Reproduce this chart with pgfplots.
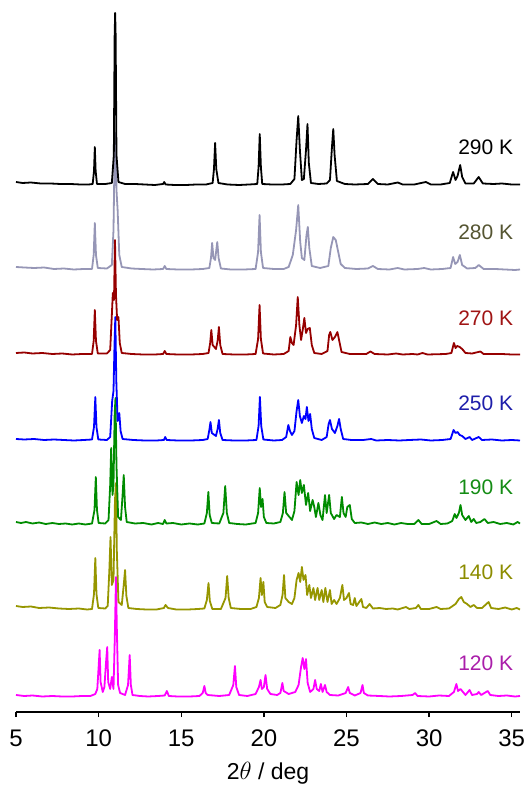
\documentclass[border=0pt]{standalone}
\usepackage{pgfplots}
\pgfplotsset{compat=1.18}
\usepackage{pgfplotstable}
\usepackage{fontspec}
\setmainfont{Liberation Sans}

\definecolor{cA}{RGB}{0,0,0}
\definecolor{cB}{RGB}{150,150,182}
\definecolor{cBt}{RGB}{85,85,50}
\definecolor{cC}{RGB}{150,0,0}
\definecolor{cCt}{RGB}{160,20,20}
\definecolor{cD}{RGB}{0,0,255}
\definecolor{cDt}{RGB}{30,30,170}
\definecolor{cE}{RGB}{0,140,0}
\definecolor{cEt}{RGB}{20,140,20}
\definecolor{cF}{RGB}{150,150,0}
\definecolor{cFt}{RGB}{140,140,0}
\definecolor{cG}{RGB}{255,0,255}
\definecolor{cGt}{RGB}{170,30,170}

% heights above each trace's own baseline (px-like units)
\pgfplotstableread{
x y
5.0 3
5.4 2
5.9 2.5
6.5 1.5
7.1 1.5
7.7 1
8.3 1
8.9 0.5
9.4 0.5
9.64 1
9.72 14
9.77 38
9.82 14
9.9 1
10.4 1
10.8 2
10.92 30
10.97 150
11.0 172
11.03 150
11.08 30
11.2 3
11.6 1
12.2 1
12.8 0.5
13.4 0
13.9 1
13.97 3
14.05 0.5
14.6 0
15.3 0
15.9 0.5
16.5 0.5
16.9 2
16.98 16
17.05 42
17.12 16
17.25 2
17.8 0.5
18.5 0
19.1 0.5
19.6 1
19.68 18
19.75 51
19.82 18
19.9 1
20.5 0.5
21.1 0.5
21.6 1
21.85 6
21.98 45
22.08 69
22.18 35
22.3 5
22.42 6
22.55 35
22.64 61
22.72 22
22.85 2
23.3 1
23.8 1.5
24.0 5
24.12 38
24.2 56
24.28 30
24.42 4
24.9 1
25.5 0.5
26.3 1
26.6 6
26.9 1
27.5 0.5
28.1 2.5
28.4 0.5
29.1 0.5
29.8 3
30.1 0.5
30.7 0.5
31.25 2
31.45 13
31.6 5
31.72 9
31.88 20
32.0 8
32.2 1.5
32.7 1.5
33.0 8
33.25 1.5
33.9 1
34.4 1.5
35.0 0.5
35.5 0.5
}\tA

\pgfplotstableread{
x y
5.0 3
5.5 2.5
6.1 2
6.7 2.5
7.3 1
7.9 1.5
8.5 0.5
9.1 1
9.6 1
9.7 15
9.77 47
9.84 15
9.95 2
10.5 1.5
10.8 5
10.9 40
10.97 120
11.02 137
11.08 80
11.15 60
11.25 15
11.4 3
12.0 1.5
12.6 1
13.3 0.5
13.9 1
14.0 4
14.1 1
14.8 0.5
15.6 0.5
16.3 1
16.7 2
16.8 12
16.87 27
16.95 12
17.05 10
17.18 28
17.26 12
17.4 1.5
18.0 0.5
18.8 0.5
19.5 1
19.65 18
19.74 55
19.82 18
19.95 2
20.6 1
21.2 1
21.5 3
21.75 15
21.95 40
22.08 65
22.2 28
22.3 12
22.45 10
22.58 35
22.66 43
22.75 22
22.9 4
23.4 2
23.9 4
24.05 22
24.2 33
24.35 30
24.5 18
24.65 6
24.9 2
25.6 1
26.3 1.5
26.6 4
26.9 1
27.6 0.5
28.1 2
28.5 0.5
29.3 1
29.7 2
30.1 0.5
30.8 1
31.3 2
31.45 13
31.58 6
31.72 8
31.86 15
32.0 5
32.3 1.5
32.8 2
33.0 5
33.3 1
34.0 1
34.6 0.5
35.2 0
35.5 0.5
}\tB

\pgfplotstableread{
x y
5.0 2
5.5 2.5
6.0 1.5
6.6 2
7.2 1
7.8 1.5
8.4 0.5
9.0 1
9.6 1
9.7 14
9.77 45
9.84 14
9.95 1.5
10.5 1.5
10.7 5
10.8 40
10.86 62
10.93 55
10.99 115
11.05 60
11.12 35
11.2 38
11.28 12
11.4 2
12.0 1
12.7 0.5
13.4 0.5
13.9 1
14.0 4
14.1 1
14.8 0.5
15.6 0.5
16.3 1
16.65 2
16.75 12
16.82 25
16.9 10
17.1 6
17.2 14
17.28 28
17.36 10
17.5 1
18.2 0.5
18.9 0.5
19.5 1
19.65 16
19.74 50
19.82 16
19.95 1.5
20.6 0.5
21.2 1
21.5 4
21.6 18
21.7 12
21.8 10
21.95 30
22.05 58
22.15 30
22.25 15
22.35 25
22.45 37
22.55 22
22.65 26
22.78 27
22.9 10
23.05 2
23.5 1
23.85 4
23.95 20
24.02 23
24.15 15
24.3 18
24.45 23
24.55 15
24.7 3
25.2 1
25.9 1
26.2 1
26.45 3.5
26.7 1
27.5 0.5
28.0 1.5
28.4 0.5
29.0 1
29.3 0.5
29.6 2
29.9 0.5
31.0 1
31.35 2
31.5 12
31.6 7
31.7 9
31.85 8
32.0 6
32.2 2
32.6 1.5
33.1 3.5
33.3 1
33.8 1
34.4 1
35.0 0.5
35.5 0.5
}\tC

\pgfplotstableread{
x y
5.0 2
5.5 1.5
6.1 2
6.7 1
7.3 1.5
7.9 1
8.5 0.5
9.1 1
9.6 1.5
9.72 14
9.8 44
9.87 14
9.98 1.5
10.5 1
10.7 4
10.82 40
10.9 50
10.96 95
11.01 124
11.07 60
11.15 20
11.25 28
11.33 10
11.45 2
12.1 1
12.8 0.5
13.5 0.5
13.95 1
14.03 4
14.12 1
14.8 0.5
15.6 0.5
16.3 1
16.6 2
16.7 11
16.77 19
16.85 8
17.1 5
17.2 12
17.28 21
17.36 8
17.5 1
18.2 0.5
18.9 0.5
19.55 1
19.68 15
19.76 44
19.84 15
19.97 1.5
20.6 0.5
21.1 1
21.35 4
21.48 16
21.58 10
21.7 6
21.85 10
21.98 30
22.08 41
22.18 25
22.3 18
22.42 25
22.52 22
22.6 34
22.7 20
22.8 27
22.9 12
23.05 3
23.5 1
23.8 4
23.92 17
24.0 21
24.12 12
24.3 8
24.45 15
24.55 22
24.65 12
24.8 2
25.3 1
26.0 1
26.5 2
26.8 0.5
27.5 1
28.2 0.5
28.8 1
29.5 1.5
30.1 0.5
30.8 1
31.3 2
31.48 11
31.6 8
31.72 9
31.85 6
32.0 5
32.2 2
32.45 4
32.6 1
33.0 4
33.2 1
33.8 1.5
34.4 0.5
35.0 1
35.5 0.5
}\tD

\pgfplotstableread{
x y
5.0 3
5.3 2
5.6 3
6.0 1.5
6.4 2.5
6.8 1
7.2 2
7.6 1
8.0 1.5
8.4 0.5
8.8 1.5
9.2 0.5
9.6 1.5
9.75 15
9.83 48
9.9 15
10.0 2
10.4 1.5
10.6 5
10.7 40
10.76 77
10.84 30
10.9 40
10.97 110
11.02 127
11.08 60
11.18 8
11.35 5
11.45 30
11.52 50
11.6 18
11.7 3
12.2 1.5
12.7 2
13.2 0.5
13.6 2
13.9 1
14.0 5
14.1 1.5
14.5 2
15.0 0.5
15.5 1.5
16.0 0.5
16.4 1.5
16.55 12
16.64 33
16.72 10
16.85 2
17.3 1.5
17.55 12
17.66 39
17.76 12
17.9 2
18.4 1
18.9 0.5
19.5 2
19.65 12
19.75 37
19.83 18
19.92 26
20.0 8
20.15 2
20.6 1.5
21.0 3
21.15 12
21.25 33
21.35 12
21.55 8
21.7 5
21.85 14
21.98 43
22.1 30
22.2 45
22.3 32
22.42 40
22.55 20
22.68 32
22.8 14
22.95 25
23.05 18
23.15 8
23.3 22
23.42 10
23.55 5
23.7 30
23.8 12
23.95 30
24.05 12
24.25 6
24.4 10
24.6 8
24.72 28
24.82 12
24.95 8
25.05 18
25.2 20
25.32 6
25.5 2
25.9 2.5
26.3 1
26.7 2.5
27.1 1
27.5 2
27.9 0.5
28.3 2
28.7 1
29.1 1
29.35 5
29.55 1
30.0 1
30.45 4
30.7 1
31.1 1.5
31.4 4
31.55 11
31.65 7
31.8 12
31.9 20
32.0 10
32.2 5
32.4 9
32.55 3
32.7 6
32.85 2
33.1 3
33.35 6
33.55 2
33.9 3
34.3 1
34.7 2
35.1 0.5
35.35 3
35.5 1.5
}\tE

\pgfplotstableread{
x y
5.0 4
5.4 3
5.9 3.5
6.4 2
7.0 2.5
7.6 1.5
8.2 1
8.8 1.5
9.3 0.5
9.6 1
9.72 16
9.8 52
9.87 16
9.98 2
10.4 1.5
10.55 4
10.65 40
10.72 73
10.8 25
10.9 30
10.99 110
11.05 127
11.1 60
11.2 8
11.4 5
11.52 25
11.6 40
11.68 14
11.8 2
12.3 1
12.9 0.5
13.5 0.5
13.95 2
14.05 5
14.2 2
14.7 0.5
15.4 0.5
16.0 1
16.4 1.5
16.55 10
16.65 27
16.73 9
16.88 1
17.4 1
17.68 12
17.78 34
17.87 12
18.0 2
18.6 1
19.2 1
19.55 3
19.7 12
19.8 32
19.88 15
19.97 28
20.05 8
20.2 3
20.7 2
21.0 5
21.13 15
21.22 35
21.3 12
21.5 8
21.7 6
21.85 12
21.98 30
22.1 37
22.2 28
22.3 43
22.4 30
22.52 35
22.62 15
22.75 25
22.85 12
23.0 22
23.1 10
23.25 22
23.35 10
23.5 20
23.6 8
23.72 22
23.85 8
24.0 20
24.1 6
24.25 10
24.4 6
24.6 12
24.75 25
24.85 10
25.0 12
25.15 17
25.25 6
25.4 5
25.5 12
25.6 4
25.9 11
26.0 3
26.2 2
26.4 6
26.6 1.5
27.0 2
27.4 1
27.8 1.5
28.1 0.5
28.6 3
28.8 1
29.2 2
29.35 5
29.5 1
30.0 1
30.45 3
30.7 1
31.2 1.5
31.6 6
31.8 11
31.95 13
32.1 8
32.3 6
32.5 3
32.7 5
32.9 2
33.2 2
33.6 8
33.75 2
34.2 1
34.6 2.5
35.0 0.5
35.3 2
35.5 0.5
}\tF

\pgfplotstableread{
x y
5.0 2
5.5 1
6.0 1.5
6.6 0.5
7.2 1
7.8 0.5
8.4 0.5
9.0 1
9.5 1
9.8 3
9.92 8
10.0 30
10.06 47
10.12 15
10.25 5
10.35 10
10.45 35
10.52 50
10.58 15
10.7 8
10.8 20
10.9 8
10.98 60
11.05 120
11.1 70
11.18 12
11.3 4
11.6 2
11.78 12
11.88 42
11.95 12
12.05 2
12.5 1
13.0 0.5
13.6 1
14.0 1.5
14.13 6
14.25 1
14.8 0.5
15.5 0.5
16.1 1
16.3 4
16.4 11
16.48 4
16.6 2
17.3 1
17.9 2
18.15 12
18.25 31
18.33 10
18.5 2
19.0 1
19.5 3
19.7 10
19.8 17
19.88 8
20.0 10
20.1 22
20.2 8
20.4 3
20.8 2
21.0 4
21.12 14
21.2 6
21.5 3
21.9 5
22.1 12
22.25 30
22.35 39
22.45 28
22.55 38
22.65 14
22.8 5
23.0 8
23.1 17
23.2 8
23.35 6
23.45 13
23.55 5
23.7 12
23.8 5
24.0 2
24.5 1.5
24.95 4
25.1 10
25.2 4
25.5 1.5
25.85 4
25.97 12
26.05 4
26.3 1.5
27.0 1
27.6 0.5
28.3 1
29.0 2
29.15 4
29.3 1
30.0 0.5
30.6 1.5
31.2 1
31.5 5
31.65 13
31.75 6
31.9 8
32.05 5
32.2 2
32.45 7
32.6 2
32.9 3
33.0 5
33.15 2
33.55 6
33.7 2
34.2 1
34.7 1.5
35.2 0.5
35.5 1
}\tG

\begin{document}
\begin{tikzpicture}
\useasboundingbox (-16pt,-73pt) rectangle (508pt,712pt);
\begin{axis}[
    scale only axis,
    width=504pt, height=712pt,
    xmin=5, xmax=35.5, ymin=0, ymax=712,
    axis x line=bottom, axis y line=none,
    x axis line style={-, line width=1.4pt},
    xtick={5,10,...,35},
    minor tick num=0,
    tick align=outside,
    major tick length=5pt,
    tick style={line width=1.4pt, black},
    /pgf/number format/assume math mode=true,
    ticklabel style={font=\fontsize{24}{28}\selectfont, yshift=-9pt},
    xlabel={2$\theta$ / deg},
    xlabel style={font=\fontsize{23}{27}\selectfont, yshift=-9pt},
    every axis plot/.append style={line width=1.8pt, line join=round},
    clip=false,
]
\addplot[cG] table[x=x, y expr=\thisrow{y}+15] {\tG};
\addplot[cF] table[x=x, y expr=\thisrow{y}+102] {\tF};
\addplot[cE] table[x=x, y expr=\thisrow{y}+187] {\tE};
\addplot[cD] table[x=x, y expr=\thisrow{y}+271] {\tD};
\addplot[cC] table[x=x, y expr=\thisrow{y}+357] {\tC};
\addplot[cB] table[x=x, y expr=\thisrow{y}+442] {\tB};
\addplot[cA] table[x=x, y expr=\thisrow{y}+527] {\tA};

\begin{scope}[every node/.style={anchor=east, font=\fontsize{21}{25}\selectfont}]
\node[text=cA]  at (axis cs:35.3,565) {290 K};
\node[text=cBt] at (axis cs:35.3,480) {280 K};
\node[text=cCt] at (axis cs:35.3,394) {270 K};
\node[text=cDt] at (axis cs:35.3,309) {250 K};
\node[text=cEt] at (axis cs:35.3,225) {190 K};
\node[text=cFt] at (axis cs:35.3,140) {140 K};
\node[text=cGt] at (axis cs:35.3,49) {120 K};
\end{scope}
\end{axis}
\end{tikzpicture}
\end{document}
